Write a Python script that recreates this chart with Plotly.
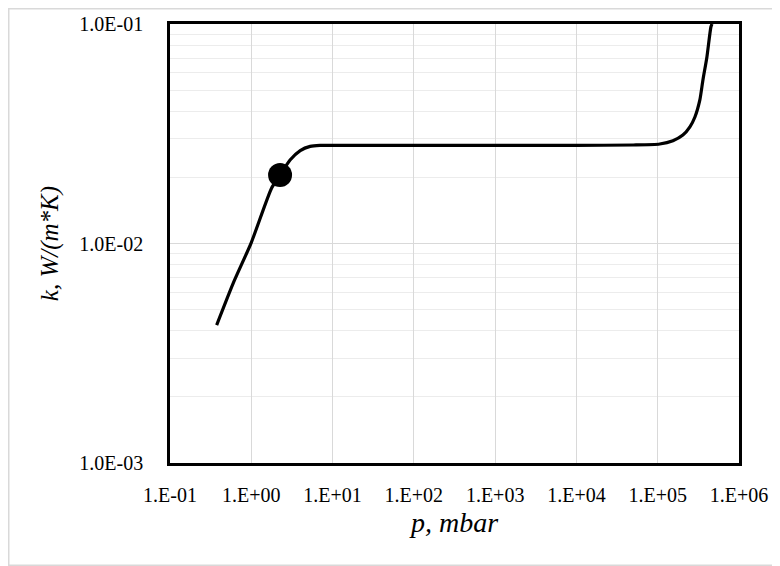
import plotly.graph_objects as go

# Data
pressure_mbar = [0.375, 0.6, 1.0, 1.78, 2.26, 3.0, 4.0, 5.3, 7.0, 10.0, 100.0, 1000.0,
                 10000.0, 50000.0, 106000.0, 154000.0, 204000.0, 249000.0, 287000.0,
                 330000.0, 360000.0, 403000.0, 451000.0, 465000.0]
conductivity = [0.00425, 0.0066, 0.0101, 0.0179, 0.0205, 0.0240, 0.0265, 0.0277, 0.0280,
                0.0280, 0.0280, 0.0280, 0.0280, 0.0281, 0.0284, 0.0294, 0.0312, 0.0340,
                0.0377, 0.0451, 0.0556, 0.0708, 0.0969, 0.1000]
marker_p = [2.26]
marker_k = [0.0205]

x_tickvals = [1e-1, 1e0, 1e1, 1e2, 1e3, 1e4, 1e5, 1e6]
x_ticktext = ["1.E-01", "1.E+00", "1.E+01", "1.E+02", "1.E+03", "1.E+04", "1.E+05", "1.E+06"]
y_tickvals = [1e-3, 1e-2, 1e-1]
y_ticktext = ["1.0E-03", "1.0E-02", "1.0E-01"]
y_minorvals = [m * 10 ** e for e in (-3, -2) for m in range(2, 10)]

FONT = "'Liberation Serif', 'Times New Roman', serif"
GRID = "#d9d9d9"

fig = go.Figure()
fig.add_trace(go.Scatter(
    x=pressure_mbar, y=conductivity, mode="lines",
    line=dict(color="black", width=3.2, shape="spline", smoothing=0.6),
    hoverinfo="skip", showlegend=False,
))
fig.add_trace(go.Scatter(
    x=marker_p, y=marker_k, mode="markers",
    marker=dict(color="black", size=24, symbol="circle"),
    showlegend=False,
))

# page body has an 8px default margin, so the figure is 8px smaller than the window
W, H = 772, 558
L, R, T, B = 162, 41, 16, 103
pw, ph = W - L - R, H - T - B

fig.update_layout(
    width=W, height=H,
    margin=dict(l=L, r=R, t=T, b=B, autoexpand=False),
    paper_bgcolor="white", plot_bgcolor="white",
    font=dict(family=FONT, color="black", size=20),
    shapes=[dict(type="rect", xref="paper", yref="paper",
                 x0=(0.75 - L) / pw, x1=(W + 20 - L) / pw,
                 y0=(T + ph - (H - 0.75)) / ph, y1=(T + ph - 0.75) / ph,
                 line=dict(color=GRID, width=1.5), layer="below")],
)
fig.update_xaxes(
    type="log", range=[-1, 6], automargin=False,
    tickmode="array", tickvals=x_tickvals, ticktext=x_ticktext,
    showgrid=True, gridcolor=GRID, gridwidth=1,
    showline=True, linecolor="black", linewidth=2.5, mirror=True,
    ticks="", ticklabelstandoff=12, tickfont=dict(family=FONT, size=20),
    title=dict(text="<i>p, mbar</i>", font=dict(family=FONT, size=28), standoff=8),
    zeroline=False,
)
fig.update_yaxes(
    type="log", range=[-3, -1], automargin=False,
    tickmode="array", tickvals=y_tickvals, ticktext=y_ticktext,
    showgrid=True, gridcolor=GRID, gridwidth=1,
    minor=dict(tickmode="array", tickvals=y_minorvals, showgrid=True,
               gridcolor="#ececec", gridwidth=1, ticks=""),
    showline=True, linecolor="black", linewidth=2.5, mirror=True,
    ticks="", ticklabelstandoff=20, tickfont=dict(family=FONT, size=20),
    title=dict(text="<i>k, W/(m*K)</i>", font=dict(family=FONT, size=25), standoff=14),
    zeroline=False,
)

fig.write_html("out.html")
